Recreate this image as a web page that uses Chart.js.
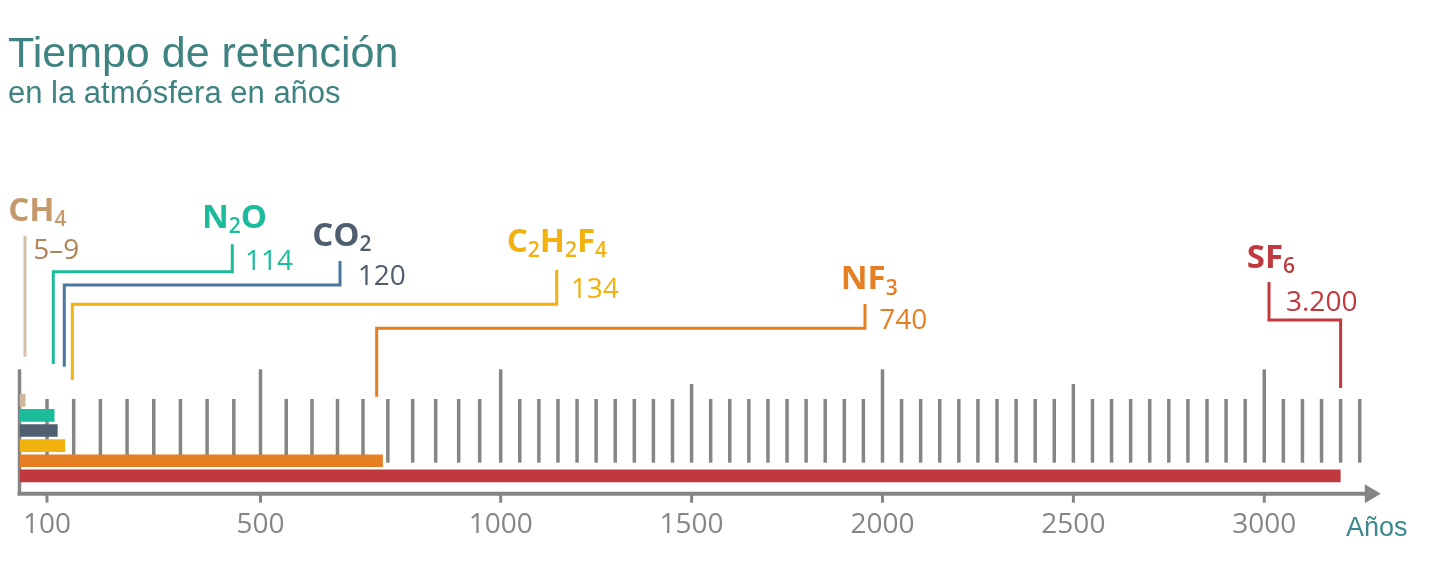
<!DOCTYPE html>
<html>
<head>
<meta charset="utf-8">
<title>Tiempo de retención</title>
<script src="https://cdn.jsdelivr.net/npm/chart.js@4.4.1/dist/chart.umd.min.js"></script>
<style>
  html, body { margin: 0; padding: 0; background: #fff; }
  #wrap { position: relative; width: 1449px; height: 580px; }
</style>
</head>
<body>
<div id="wrap"><canvas id="retentionChart"></canvas></div>
<script>
// data
const gases = ['CH4', 'N2O', 'CO2', 'C2H2F4', 'NF3', 'SF6'];
const yearsLow = [5, 114, 120, 134, 740, 3200];
const yearsHigh = [9, 114, 120, 134, 740, 3200];
const tickValues = [100, 500, 1000, 1500, 2000, 2500, 3000];

const barColors = ['#cfb89e', '#1abc9c', '#4f6071', '#f1b10f', '#e67e22', '#c0393f'];
const nameColors = ['#c49a6c', '#1abc9c', '#4f5d6e', '#f1b10f', '#e67e22', '#c0393f'];
const valueColors = ['#b08457', '#1abc9c', '#4f5d6e', '#f1b10f', '#e67e22', '#c0393f'];
const leaderColors = ['#d5c0a7', '#1abc9c', '#4a76a0', '#f1b10f', '#e67e22', '#c0393f'];

// the axis of the original is stretched at the low end: value -> units along the axis
const axisKnots = [[0, 0], [100, 27.5], [500, 241], [600, 292.5], [700, 343.5],
                   [800, 393.2], [900, 439.2], [1000, 481.2], [3000, 1244.8]];

// where the leaders and labels sit (pixels)
const callouts = [
  { nudge: 3, bottom: 356.7, top: 236, name: [8.3, 220.7], value: [33.3, 259] },
  { nudge: -1.2, bottom: 364, elbow: 271.7, post: 232.3, top: 244.3, name: [202, 227.7], value: [245, 270] },
  { nudge: 6.6, bottom: 366.7, elbow: 285, post: 340, top: 261, name: [312.3, 245.7], value: [357.7, 285] },
  { nudge: 7.2, bottom: 380, elbow: 304.3, post: 556.7, top: 270, name: [506.7, 251.7], value: [570.7, 298.3] },
  { nudge: -6.2, bottom: 396.7, elbow: 328.3, post: 865, top: 304, name: [840.7, 289.3], value: [879.3, 329] },
  { nudge: 0, bottom: 388, elbow: 320, post: 1269, top: 282, name: [1246.7, 267.7], value: [1286, 310.7] },
];

const gray = '#858585';
const teal = '#3e8381';

function valueToUnits(v) {
  let i = 1;
  while (i < axisKnots.length - 1 && v > axisKnots[i][0]) i++;
  const [v0, u0] = axisKnots[i - 1];
  const [v1, u1] = axisKnots[i];
  return u0 + (v - v0) * (u1 - u0) / (v1 - v0);
}

function unitsToValue(u) {
  let i = 1;
  while (i < axisKnots.length - 1 && u > axisKnots[i][1]) i++;
  const [v0, u0] = axisKnots[i - 1];
  const [v1, u1] = axisKnots[i];
  return v0 + (u - u0) * (v1 - v0) / (u1 - u0);
}

class StretchedScale extends Chart.LinearScale {
  getPixelForValue(value) {
    if (value === null || value === undefined || isNaN(value)) return NaN;
    const a = valueToUnits(this.min), b = valueToUnits(this.max);
    return this.getPixelForDecimal((valueToUnits(value) - a) / (b - a));
  }
  getValueForPixel(pixel) {
    const a = valueToUnits(this.min), b = valueToUnits(this.max);
    return unitsToValue(a + this.getDecimalForPixel(pixel) * (b - a));
  }
}
StretchedScale.id = 'stretched';
StretchedScale.defaults = {};
Chart.register(StretchedScale);

function formatYears(lo, hi) {
  if (lo !== hi) return lo + '–' + hi;
  return String(hi).replace(/\B(?=(\d{3})+(?!\d))/g, '.');
}

function drawFormula(ctx, text, x, y, color) {
  ctx.fillStyle = color;
  ctx.textBaseline = 'alphabetic';
  ctx.textAlign = 'left';
  for (const ch of text) {
    const sub = /\d/.test(ch);
    ctx.font = sub ? '600 21px "Open Sans"' : '700 33px "Open Sans"';
    ctx.fillText(ch, x, sub ? y + 5.5 : y);
    x += ctx.measureText(ch).width;
  }
}

const decorations = {
  id: 'decorations',
  beforeDatasetsDraw(chart) {
    const ctx = chart.ctx;
    const xs = chart.scales.x;
    const axisY = chart.chartArea.bottom + 10.3;
    ctx.save();
    ctx.strokeStyle = gray;
    ctx.fillStyle = gray;

    // vertical year marks every 50
    ctx.lineWidth = 3.5;
    const marks = [0];
    for (let v = 100; v <= 3250; v += 50) marks.push(v);
    marks.forEach(v => {
      const px = xs.getPixelForValue(v);
      let top = axisY - 94.7, bottom = axisY - 31;
      if (v === 0) { top = axisY - 124.4; bottom = axisY; }
      else if (v % 1000 === 0 || v === 500) top = axisY - 124.4;
      else if (v % 500 === 0) top = axisY - 109.7;
      ctx.beginPath();
      ctx.moveTo(px, top);
      ctx.lineTo(px, bottom);
      ctx.stroke();
    });

    // axis line with arrow
    const tip = chart.chartArea.right + 2;
    ctx.lineWidth = 4;
    ctx.beginPath();
    ctx.moveTo(xs.getPixelForValue(0) - 2, axisY);
    ctx.lineTo(tip - 15, axisY);
    ctx.stroke();
    ctx.beginPath();
    ctx.moveTo(tip - 16, axisY - 9.5);
    ctx.lineTo(tip, axisY);
    ctx.lineTo(tip - 16, axisY + 9.5);
    ctx.closePath();
    ctx.fill();

    // little ticks under the labelled years
    ctx.lineWidth = 3;
    tickValues.forEach(v => {
      const px = xs.getPixelForValue(v);
      ctx.beginPath();
      ctx.moveTo(px, axisY);
      ctx.lineTo(px, axisY + 9);
      ctx.stroke();
    });
    ctx.restore();
  },
  afterDatasetsDraw(chart) {
    const ctx = chart.ctx;
    const xs = chart.scales.x;
    ctx.save();

    // leaders
    ctx.lineWidth = 3;
    ctx.lineJoin = 'miter';
    ctx.lineCap = 'butt';
    callouts.forEach((c, i) => {
      const foot = xs.getPixelForValue(yearsHigh[i]) + c.nudge;
      ctx.strokeStyle = leaderColors[i];
      ctx.beginPath();
      ctx.moveTo(foot, c.bottom);
      if (c.elbow !== undefined) {
        ctx.lineTo(foot, c.elbow);
        ctx.lineTo(c.post, c.elbow);
        ctx.lineTo(c.post, c.top);
      } else {
        ctx.lineTo(foot, c.top);
      }
      ctx.stroke();
    });

    // names and values
    callouts.forEach((c, i) => {
      drawFormula(ctx, gases[i], c.name[0], c.name[1], nameColors[i]);
      ctx.font = '400 28px "Open Sans"';
      ctx.fillStyle = valueColors[i];
      ctx.textAlign = 'left';
      ctx.textBaseline = 'alphabetic';
      ctx.fillText(formatYears(yearsLow[i], yearsHigh[i]), c.value[0], c.value[1]);
    });

    // title, subtitle, unit
    ctx.fillStyle = teal;
    ctx.textAlign = 'left';
    ctx.textBaseline = 'alphabetic';
    ctx.font = '43px "Liberation Sans", Arial, sans-serif';
    ctx.fillText('Tiempo de retención', 8, 66.7);
    ctx.font = '31px "Liberation Sans", Arial, sans-serif';
    ctx.fillText('en la atmósfera en años', 8, 102.7);
    ctx.fillStyle = '#3a8a8c';
    ctx.font = '27px "Liberation Sans", Arial, sans-serif';
    ctx.fillText('Años', 1346, 536);
    ctx.restore();
  }
};

new Chart(document.getElementById('retentionChart').getContext('2d'), {
  type: 'bar',
  data: {
    labels: gases,
    datasets: [{
      data: yearsHigh,
      backgroundColor: barColors,
      borderWidth: 0,
      barPercentage: 0.84,
      categoryPercentage: 1,
      minBarLength: 6,
    }],
  },
  options: {
    indexAxis: 'y',
    responsive: true,
    maintainAspectRatio: false,
    animation: false,
    layout: { padding: { left: 19.5, right: 70.2, top: 392.75, bottom: 38 } },
    plugins: {
      legend: { display: false },
      tooltip: { enabled: false },
    },
    scales: {
      x: {
        type: 'stretched',
        min: 0,
        max: 3300,
        grid: {
          display: true,
          drawOnChartArea: false,
          drawTicks: true,
          tickLength: 25,
          tickColor: 'rgba(0,0,0,0)',
        },
        border: { display: false },
        afterBuildTicks: (scale) => { scale.ticks = tickValues.map(v => ({ value: v })); },
        ticks: {
          autoSkip: false,
          maxRotation: 0,
          minRotation: 0,
          padding: 0,
          color: '#868686',
          font: { family: '"Open Sans"', size: 28 },
          callback: (value) => String(value),
        },
      },
      y: {
        display: false,
        grid: { display: false },
      },
    },
  },
  plugins: [decorations],
});
</script>
</body>
</html>
